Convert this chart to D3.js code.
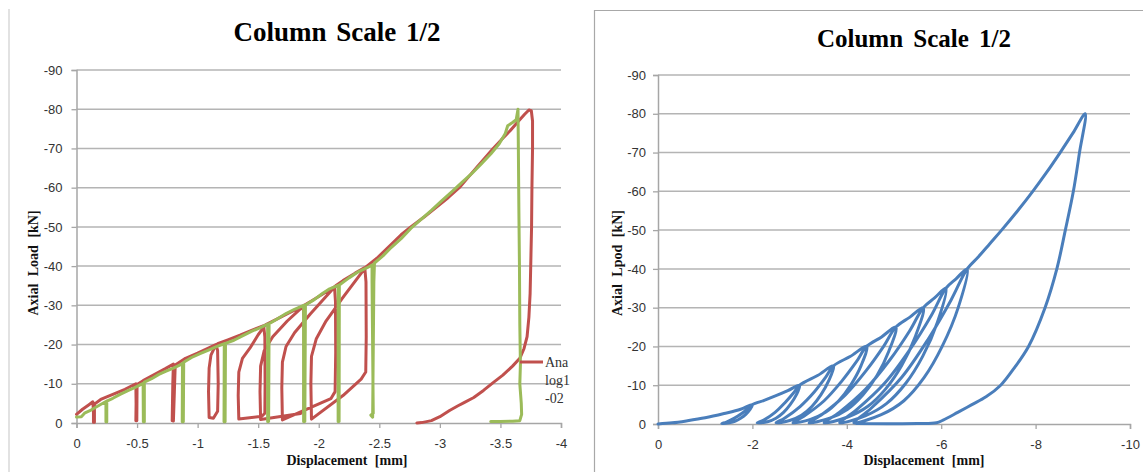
<!DOCTYPE html>
<html>
<head>
<meta charset="utf-8">
<script src="https://cdn.jsdelivr.net/npm/d3@7"></script>
<style>
  body { margin: 0; background: #fff; }
  .tick text { font-family: "Liberation Sans", Arial, sans-serif; font-size: 13px; fill: #333; }
  .title { font-family: "Liberation Serif", "Times New Roman", serif; font-weight: bold; fill: #000; }
  .axis-title { font-family: "Liberation Serif", "Times New Roman", serif; font-weight: bold; font-size: 14px; fill: #111; word-spacing: 4px; }
</style>
</head>
<body>
<div id="my_dataviz"></div>
<script>
const width = 1143, height = 472;

// tick values
const leftXTicks = [0, -0.5, -1, -1.5, -2, -2.5, -3, -3.5, -4];
const rightXTicks = [0, -2, -4, -6, -8, -10];
const loadTicks = [0, -10, -20, -30, -40, -50, -60, -70, -80, -90];

// left chart, analytical series (displacement mm, load kN)
const redSeries = [
  [0,-2.2],[-0.05,-3.5],[-0.1,-4.6],[-0.135,-5.4],
  [-0.14,-3],[-0.14,-0.2],[-0.148,-0.2],[-0.148,-4.8],
  [-0.2,-6.0],[-0.3,-7.3],[-0.4,-8.6],[-0.49,-10],
  [-0.492,-5],[-0.49,-0.6],[-0.498,-0.6],[-0.5,-9.8],
  [-0.55,-10.8],[-0.65,-12.5],[-0.73,-13.8],[-0.8,-15],
  [-0.795,-10],[-0.79,-0.6],[-0.8,-0.5],[-0.808,-8],[-0.815,-14.8],
  [-0.9,-16.5],[-1.0,-17.8],[-1.08,-19],[-1.15,-20],
  [-1.165,-18.5],[-1.17,-10],[-1.165,-3],[-1.13,-1.2],[-1.095,-1.4],[-1.09,-8],[-1.095,-14],[-1.11,-17.3],[-1.14,-19.3],[-1.165,-20.2],
  [-1.25,-21.2],[-1.35,-22.4],[-1.45,-23.7],[-1.545,-24.8],
  [-1.555,-22],[-1.557,-10],[-1.555,-2.5],[-1.53,-1.7],[-1.34,-1.0],[-1.335,-7],[-1.34,-13],[-1.37,-16.5],[-1.43,-19],[-1.5,-22.5],[-1.56,-25],
  [-1.65,-26.4],[-1.75,-28],[-1.87,-29.8],
  [-1.878,-27],[-1.88,-12],[-1.878,-3.5],[-1.85,-2.4],[-1.52,-0.9],[-1.515,-8],[-1.52,-14.5],[-1.55,-18.5],[-1.62,-22],[-1.74,-26],[-1.88,-30],
  [-1.95,-31.3],[-2.05,-33.2],[-2.13,-34.7],
  [-2.138,-31],[-2.14,-18],[-2.135,-8],[-2.1,-6.2],[-1.7,-0.8],[-1.695,-9],[-1.7,-15.5],[-1.73,-19.5],[-1.8,-23],[-1.93,-27.8],[-2.14,-35],
  [-2.2,-36.3],[-2.3,-38.2],[-2.38,-39.6],
  [-2.39,-36],[-2.392,-22],[-2.388,-13],[-2.35,-11.2],[-2.2,-7],[-1.94,-1.0],[-1.935,-10],[-1.94,-17],[-1.98,-21.5],[-2.06,-26],[-2.2,-32],[-2.39,-39.8],
  [-2.48,-42],[-2.58,-45],[-2.68,-48],[-2.76,-50],[-2.87,-52.5],[-2.97,-55],[-3.07,-57.5],[-3.16,-60],[-3.23,-62.5],[-3.3,-65],[-3.37,-67.5],[-3.44,-70],[-3.51,-72.3],[-3.58,-74.5],[-3.65,-77],[-3.7,-78.7],[-3.735,-79.8],[-3.755,-79.6],
  [-3.765,-77],[-3.765,-70],[-3.76,-60],[-3.757,-50],[-3.75,-40],[-3.745,-33],[-3.735,-27],[-3.72,-22],[-3.695,-19],[-3.66,-16.5],[-3.6,-14.5],[-3.52,-12.2],[-3.44,-10.3],[-3.36,-8.3],[-3.28,-6.5],[-3.2,-5.2],[-3.15,-4.4],[-3.08,-3.2],[-3.0,-1.6],[-2.93,-0.6],[-2.85,-0.1],[-2.81,0]
];

// left chart, test series
const greenSeries = [
  [0,-1.5],[-0.04,-1.6],[-0.07,-2.6],[-0.12,-3.3],[-0.17,-4.2],[-0.21,-4.9],[-0.243,-5.5],
  [-0.243,-0.3],[-0.25,-0.3],[-0.25,-5.6],
  [-0.3,-6.3],[-0.36,-7.3],[-0.42,-8.2],[-0.48,-9.0],[-0.55,-10.1],
  [-0.552,-0.3],[-0.56,-0.3],[-0.56,-10.4],
  [-0.62,-11.3],[-0.68,-12.4],[-0.74,-13.2],[-0.8,-14.0],[-0.86,-14.9],[-0.875,-15.2],
  [-0.873,-0.3],[-0.882,-0.3],[-0.885,-15.5],
  [-0.95,-16.7],[-1.02,-17.7],[-1.09,-18.6],[-1.15,-19.4],[-1.22,-20.2],
  [-1.218,-0.3],[-1.227,-0.3],[-1.23,-20.3],
  [-1.3,-21.1],[-1.37,-22.2],[-1.44,-23.3],[-1.51,-24.2],[-1.578,-25.2],
  [-1.578,-0.4],[-1.586,-0.4],[-1.59,-25.3],
  [-1.66,-26.6],[-1.73,-27.9],[-1.8,-29.0],[-1.875,-30.0],
  [-1.875,-0.4],[-1.885,-0.4],[-1.89,-30.1],
  [-1.96,-31.4],[-2.03,-33.0],[-2.09,-34.2],[-2.16,-35.1],
  [-2.16,-0.4],[-2.168,-0.4],[-2.17,-35.2],
  [-2.25,-37.0],[-2.33,-38.6],[-2.4,-39.6],[-2.44,-40.3],
  [-2.44,-36],[-2.45,-2.5],[-2.43,-2],[-2.445,-1.5],[-2.455,-36],[-2.46,-40.8],
  [-2.53,-42.6],[-2.6,-44.8],[-2.68,-47.0],[-2.76,-49.6],[-2.84,-51.8],[-2.93,-54.2],[-3.01,-56.5],[-3.1,-59.0],[-3.18,-61.3],[-3.26,-63.5],[-3.34,-66],[-3.42,-68.6],[-3.49,-71.2],[-3.54,-73.8],[-3.56,-75.8],[-3.6,-76.6],[-3.63,-77.3],[-3.645,-80],
  [-3.648,-70],[-3.652,-55],[-3.657,-40],[-3.66,-25],[-3.665,-15],[-3.66,-10],[-3.672,-5],[-3.675,-2.2],[-3.66,-0.6],[-3.6,-0.45],[-3.5,-0.4],[-3.42,-0.4]
];

// right chart, single series
const blueSeries = [
  [0,0],[-0.3,-0.3],[-0.6,-0.8],[-1.0,-1.6],[-1.4,-2.7],[-1.75,-3.8],[-2.0,-5.0],
  [-1.95,-3.75],[-1.86,-2.5],[-1.75,-1.5],[-1.64,-0.75],[-1.51,-0.3],[-1.35,-0.1],
  [-1.45,-0.5],[-1.62,-1.5],[-1.78,-2.75],[-1.91,-4.0],[-2.0,-5.0],
  [-2.25,-6.1],[-2.5,-7.3],[-2.75,-8.6],[-3.0,-10],
  [-2.93,-7.5],[-2.8,-5],[-2.66,-3],[-2.5,-1.5],[-2.32,-0.6],[-2.1,-0.3],
  [-2.24,-1],[-2.48,-3],[-2.69,-5.5],[-2.87,-8],[-3.0,-10],
  [-3.38,-12.5],[-3.72,-15],
  [-3.62,-11.25],[-3.45,-7.5],[-3.26,-4.5],[-3.04,-2.25],[-2.79,-0.9],[-2.5,-0.3],
  [-2.68,-1.5],[-3.01,-4.5],[-3.31,-8.25],[-3.55,-12],[-3.72,-15],
  [-4.07,-17.4],[-4.42,-20],
  [-4.3,-15],[-4.08,-10],[-3.83,-6],[-3.55,-3],[-3.23,-1.2],[-2.86,-0.3],
  [-3.09,-2],[-3.52,-6],[-3.89,-11],[-4.2,-16],[-4.42,-20],
  [-4.73,-22.4],[-5.04,-25],
  [-4.89,-18.75],[-4.64,-12.5],[-4.34,-7.5],[-4.01,-3.75],[-3.64,-1.5],[-3.2,-0.3],
  [-3.48,-2.5],[-3.97,-7.5],[-4.41,-13.75],[-4.78,-20],[-5.04,-25],
  [-5.33,-27.5],[-5.62,-30],
  [-5.45,-22.5],[-5.16,-15],[-4.82,-9],[-4.44,-4.5],[-4.02,-1.8],[-3.52,-0.3],
  [-3.84,-3],[-4.4,-9],[-4.91,-16.5],[-5.33,-24],[-5.62,-30],
  [-5.86,-32.5],[-6.1,-35],
  [-5.92,-26.25],[-5.61,-17.5],[-5.25,-10.5],[-4.84,-5.25],[-4.39,-2.1],[-3.85,-0.3],
  [-4.19,-3.5],[-4.8,-10.5],[-5.34,-19.25],[-5.79,-28],[-6.1,-35],
  [-6.32,-37.5],[-6.55,-40],
  [-6.36,-30],[-6.02,-20],[-5.64,-12],[-5.21,-6],[-4.73,-2.4],[-4.15,-0.3],
  [-4.51,-4],[-5.16,-12],[-5.73,-22],[-6.21,-32],[-6.55,-40],
  [-6.78,-43],[-7.03,-46.5],[-7.28,-50],[-7.62,-55],[-7.94,-60],[-8.24,-65],[-8.52,-70],[-8.79,-75],[-9.05,-80],
  [-8.93,-70],[-8.8,-60],[-8.63,-50],[-8.45,-40],[-8.2,-30],[-7.85,-20],[-7.55,-14.5],[-7.26,-10],[-6.95,-7],[-6.65,-5],[-6.35,-3],[-6.04,-1],[-5.9,-0.3],[-5.5,-0.1],[-4.2,-0.1]
];

const svg = d3.select("#my_dataviz")
  .append("svg")
    .attr("width", width)
    .attr("height", height);

// panel frames
svg.append("line")
  .attr("x1", 9).attr("x2", 9).attr("y1", 9).attr("y2", height)
  .style("stroke", "#cfcfcf").style("stroke-width", 1.2);
svg.append("path")
  .attr("d", `M594.5,${height} V10.5 H${width}`)
  .style("fill", "none").style("stroke", "#a8a8a8").style("stroke-width", 1.2);

function drawPanel(p) {
  const x = d3.scaleLinear().domain(p.xDomain).range(p.xRange);
  const y = d3.scaleLinear().domain([0, -90]).range(p.yRange);
  const g = svg.append("g");

  // gridlines
  g.append("g").selectAll("line")
    .data(loadTicks.slice(1))
    .join("line")
      .attr("x1", p.xRange[0]).attr("x2", p.xRange[1])
      .attr("y1", d => y(d)).attr("y2", d => y(d))
      .style("stroke", "#b4b4b4").style("stroke-width", 1.5);

  const xAxis = g.append("g")
    .attr("transform", `translate(0, ${y(0)})`)
    .call(d3.axisBottom(x).tickValues(p.xTicks).tickSize(5).tickPadding(11).tickFormat(d => String(d)));
  const yAxis = g.append("g")
    .attr("transform", `translate(${x(0)}, 0)`)
    .call(d3.axisLeft(y).tickValues(loadTicks).tickSize(5).tickPadding(p.yPad).tickFormat(d => String(d)));
  [xAxis, yAxis].forEach(a => {
    a.select(".domain").style("stroke", "#a6a6a6").style("stroke-width", 1.5);
    a.selectAll(".tick line").style("stroke", "#a6a6a6").style("stroke-width", 1.3);
  });

  p.series.forEach(s => {
    const line = d3.line().curve(s.curve).x(d => x(d[0])).y(d => y(d[1]));
    g.append("path")
      .datum(s.data)
      .attr("d", line)
      .style("fill", "none")
      .style("stroke", s.color)
      .style("stroke-width", 3)
      .style("stroke-linejoin", "round")
      .style("stroke-linecap", "round");
  });

  // titles
  g.append("text")
    .attr("class", "title")
    .attr("text-anchor", "middle")
    .attr("x", p.titleX).attr("y", p.titleY)
    .style("font-size", p.titleSize + "px")
    .style("word-spacing", p.titleSpacing + "px")
    .text("Column Scale 1/2");
  g.append("text")
    .attr("class", "axis-title")
    .attr("text-anchor", "middle")
    .attr("x", p.xTitleX).attr("y", 465)
    .text("Displacement [mm]");
  g.append("text")
    .attr("class", "axis-title")
    .attr("text-anchor", "middle")
    .attr("transform", `translate(${p.yTitleX}, 263) rotate(-90)`)
    .text(p.yTitle);
  return {x, y, g};
}

drawPanel({
  xDomain: [0, -4], xRange: [76.5, 561], yRange: [423, 70],
  xTicks: leftXTicks, yPad: 9,
  series: [
    {data: redSeries, color: "#c0504d", curve: d3.curveLinear},
    {data: greenSeries, color: "#9bbb59", curve: d3.curveLinear}
  ],
  titleX: 337, titleY: 41, titleSize: 27, titleSpacing: 3,
  xTitleX: 347, yTitleX: 38, yTitle: "Axial Load [kN]"
});

drawPanel({
  xDomain: [0, -10], xRange: [658, 1130], yRange: [424, 75],
  xTicks: rightXTicks, yPad: 7,
  series: [{data: blueSeries, color: "#4a7ebb", curve: d3.curveCatmullRom.alpha(0.5)}],
  titleX: 914, titleY: 47, titleSize: 25, titleSpacing: 4,
  xTitleX: 924, yTitleX: 622, yTitle: "Axial Lpod [kN]"
});

// legend (wrapped and cut like the original)
const legend = svg.append("g").attr("class", "legend");
legend.append("line")
  .attr("x1", 520).attr("x2", 543).attr("y1", 362).attr("y2", 362)
  .style("stroke", "#c0504d").style("stroke-width", 3);
legend.selectAll("text")
  .data(["Ana", "log1", "-02"])
  .join("text")
    .attr("x", 545)
    .attr("y", (d, i) => 367 + i * 18)
    .text(d => d)
    .style("font-family", "Liberation Serif, serif")
    .style("font-size", "14px")
    .style("fill", "#333");
</script>
</body>
</html>
